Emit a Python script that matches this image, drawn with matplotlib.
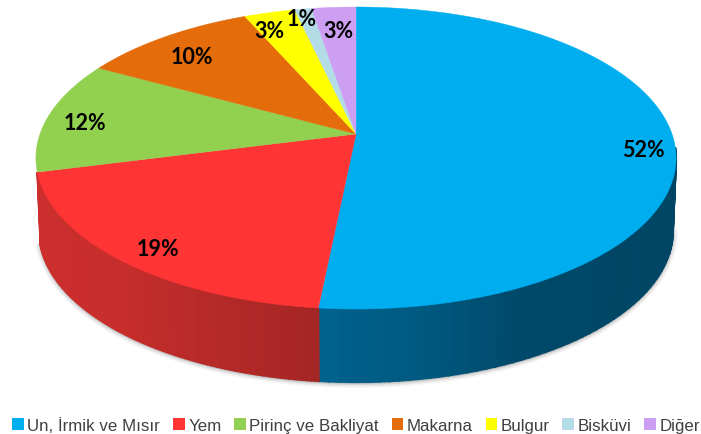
import numpy as np
import matplotlib
matplotlib.use("Agg")
import matplotlib.pyplot as plt
from matplotlib.patches import Patch

categories = ["Un, İrmik ve Mısır", "Yem", "Pirinç ve Bakliyat", "Makarna", "Bulgur", "Bisküvi", "Diğer"]
shares = [51.6, 19.4, 12.0, 10.4, 3.0, 1.0, 2.6]
labels = ["52%", "19%", "12%", "10%", "3%", "1%", "3%"]

top_colors = ["#00AEEF", "#FF3535", "#92D050", "#E46C0A", "#FFFF00", "#B3DCE6", "#CC9FF2"]
side_colors = ["#00638F", "#CC2F2D"]
label_pos = [(643, 151), (158, 250), (85, 123), (192, 57), (269, 31), (302, 19), (338, 31)]

# pie geometry in pixels, the far side is squeezed by perspective
CX, CY = 356, 135
A, B, K = 316, 147.2, 0.159
DEPTH = 73


def project(theta):
    """Map clockwise-from-top angle (radians) to picture x, y"""
    u, v = np.sin(theta), np.cos(theta)
    w = 1 + K * v
    return CX + A * u / w, CY - B * v / w


def drop(x, y):
    """Same rim point on the bottom of the pie"""
    return CX + (x - CX) * 0.99, y + DEPTH


fig = plt.figure(figsize=(7.01, 4.35), dpi=100)
ax = fig.add_axes([0, 0, 1, 1])
ax.set_xlim(0, 701)
ax.set_ylim(435, 0)
ax.axis("off")

edges = np.radians(np.cumsum([0] + shares) * 3.6)

# soft shadow under the front rim
t = np.linspace(np.pi * 0.55, edges[2], 300)
sx, sy = drop(*project(t))
for lw, a in [(7, 0.05), (5, 0.07), (3, 0.1), (1.5, 0.14)]:
    ax.plot(sx, sy + 1, color="#404040", lw=lw, alpha=a, solid_capstyle="round", zorder=1)

# side wall, darker towards the lower right
for i, color in enumerate(side_colors):
    t = np.linspace(edges[i], edges[i + 1], 120)
    base = np.array(matplotlib.colors.to_rgb(color))
    for t0, t1 in zip(t[:-1], t[1:]):
        if np.cos((t0 + t1) / 2) > -0.1:
            continue
        x0, y0 = project(t0)
        x1, y1 = project(t1)
        bx0, by0 = drop(x0, y0)
        bx1, by1 = drop(x1, y1)
        xm = (x0 + x1) / 2
        if i == 0:
            f = np.interp(xm, [320, 430, 520, 680], [1.0, 0.88, 0.74, 0.7])
        else:
            f = np.interp(xm, [38, 120, 320], [1.0, 0.97, 0.8])
        ax.fill([x0, x1, bx1, bx0], [y0, y1, by1, by0],
                facecolor=base * f, edgecolor=base * f, lw=1.5, zorder=2)

# top face
for i, color in enumerate(top_colors):
    t = np.linspace(edges[i], edges[i + 1], 200)
    x, y = project(t)
    ax.fill(np.r_[CX, x], np.r_[CY, y], color=color, lw=0.3, zorder=3)

for text, (x, y) in zip(labels, label_pos):
    ax.text(x, y, text, family="Lato", weight="bold", fontsize=15.5, color="black",
            ha="center", va="center", zorder=4)

handles = [Patch(facecolor=c, edgecolor="none") for c in top_colors]
fig.legend(handles, categories, loc="lower center", bbox_to_anchor=(0.508, -0.032), ncol=7,
           frameon=False, prop={"family": "Liberation Sans", "size": 12.2},
           labelcolor="#404040", handlelength=0.7, handleheight=0.7,
           handletextpad=0.2, columnspacing=0.75, borderpad=0.4)

fig.savefig("out.png", dpi=100)
